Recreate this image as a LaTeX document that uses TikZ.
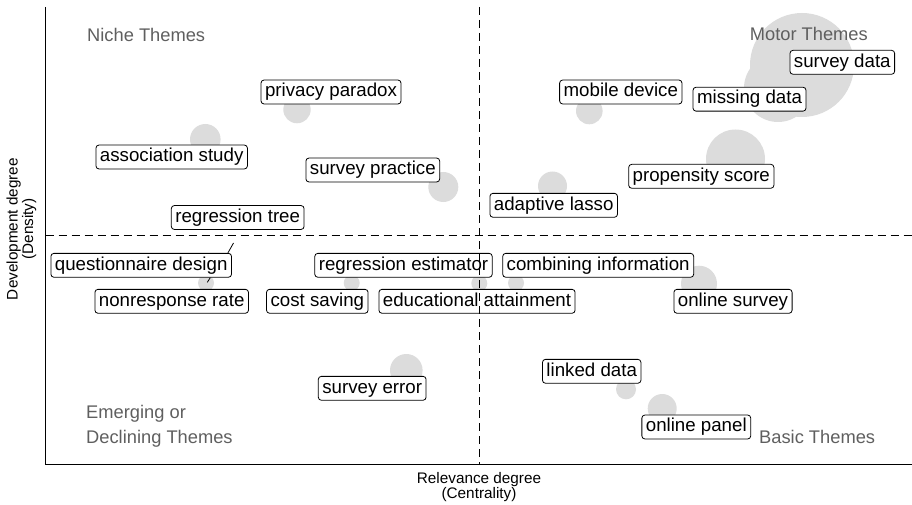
\documentclass[tikz,border=0pt]{standalone}
\usepackage{fontspec}
\setmainfont{Liberation Sans}
\usepackage{tikz}
\usetikzlibrary{calc}

\definecolor{bubblegray}{RGB}{220,220,220}
\definecolor{quadgray}{RGB}{95,95,95}

\begin{document}
\begin{tikzpicture}[x=1pt,y=-1pt,
		lbl/.style={draw,fill=white,rounded corners=3pt,line width=0.8pt,inner xsep=4pt,inner ysep=3.3pt,
			text height=13.4pt,text depth=3.9pt,font=\fontsize{18.7}{22}\selectfont},
		quad/.style={text=quadgray,inner sep=0pt,align=left,font=\fontsize{18.3}{25}\selectfont},
		axtitle/.style={inner sep=0pt,align=center,font=\fontsize{15.3}{14}\selectfont},
		bub/.style={fill=bubblegray},
		refline/.style={line width=0.9pt,dash pattern=on 8pt off 5pt},
		leader/.style={line width=0.8pt}]
			\useasboundingbox (0,0) rectangle (912,505);
			
			\coordinate (O) at (45.5,464);
			\coordinate (T) at (45.5,7);
			\coordinate (R) at (912,464);
			\draw[line width=1pt] (T)--(O)--(R);
			
			\fill[bub] (802,65) circle (52);
			\fill[bub] (778,88) circle (34);
			\fill[bub] (735.5,159) circle (29.5);
			\fill[bub] (589.3,111) circle (13.3);
			\fill[bub] (552.5,186) circle (14.5);
			\fill[bub] (297,109.6) circle (13.7);
			\fill[bub] (205.3,139.3) circle (15.3);
			\fill[bub] (443.3,187) circle (15);
			\fill[bub] (206,283) circle (8);
			\fill[bub] (351.7,283) circle (8);
			\fill[bub] (479.3,283.3) circle (8);
			\fill[bub] (516,283) circle (8);
			\fill[bub] (699,283.7) circle (18);
			\fill[bub] (626,389.3) circle (10);
			\fill[bub] (662.2,408.5) circle (14.5);
			\fill[bub] (406.3,370.3) circle (16.3);
			
			\node[quad,anchor=base west] (niche) at (87,42) {Niche Themes};
			\node[quad,anchor=base east] (motor) at (868,41) {Motor Themes};
			\node[quad,anchor=base west] (emerg) at (86,443) {Emerging or\\Declining Themes};
			\node[quad,anchor=base east] (basic) at (875.3,443) {Basic Themes};
			
			\node[lbl] (privacy) at (331,92) {privacy paradox};
			\node[lbl] (assoc) at (171.7,157) {association study};
			\node[lbl] (practice) at (372.8,170) {survey practice};
			\node[lbl] (rtree) at (237.7,217.5) {regression tree};
			\node[lbl] (sdata) at (842.3,62.3) {survey data};
			\node[lbl] (mobile) at (620.8,92) {mobile device};
			\node[lbl] (missing) at (749.5,99.2) {missing data};
			\node[lbl] (propensity) at (701.3,176.3) {propensity score};
			\node[lbl] (lasso) at (553.7,205.3) {adaptive lasso};
			\node[lbl] (qdesign) at (141.2,265.3) {questionnaire design};
			\node[lbl] (nonresp) at (171.7,301.3) {nonresponse rate};
			\node[lbl] (cost) at (317.3,301.3) {cost saving};
			\node[lbl] (restim) at (403.5,265.3) {regression estimator};
			\node[lbl] (edu) at (477,301.3) {educational attainment};
			\node[lbl] (serror) at (372.2,388.3) {survey error};
			\node[lbl] (combine) at (598.2,265.3) {combining information};
			\node[lbl] (osurvey) at (733,301.3) {online survey};
			\node[lbl] (linked) at (591.7,371.3) {linked data};
			\node[lbl] (opanel) at (696.3,427) {online panel};
			
			\coordinate (qdtop) at (233.5,243);
			\coordinate (qdpt) at (207.3,282.3);
			\draw[leader] ([xshift=-4pt]qdesign.north east)--(qdtop);
			\draw[leader] ([xshift=-21.6pt]qdesign.south east)--(qdpt);
			
			\coordinate (VT) at (479.3,7);
			\coordinate (VB) at (479.3,464);
			\coordinate (HL) at (45.5,235);
			\coordinate (HR) at (912,235);
			\draw[refline] (VT)--(VB);
			\draw[refline] (HL)--(HR);
			
			\node[axtitle,anchor=base] (xtitle) at (479,498.5) {Relevance degree\\(Centrality)};
			\node[axtitle,anchor=base,rotate=90] (ytitle) at (33,229) {Development degree\\(Density)};
		\end{tikzpicture}
\end{document}
